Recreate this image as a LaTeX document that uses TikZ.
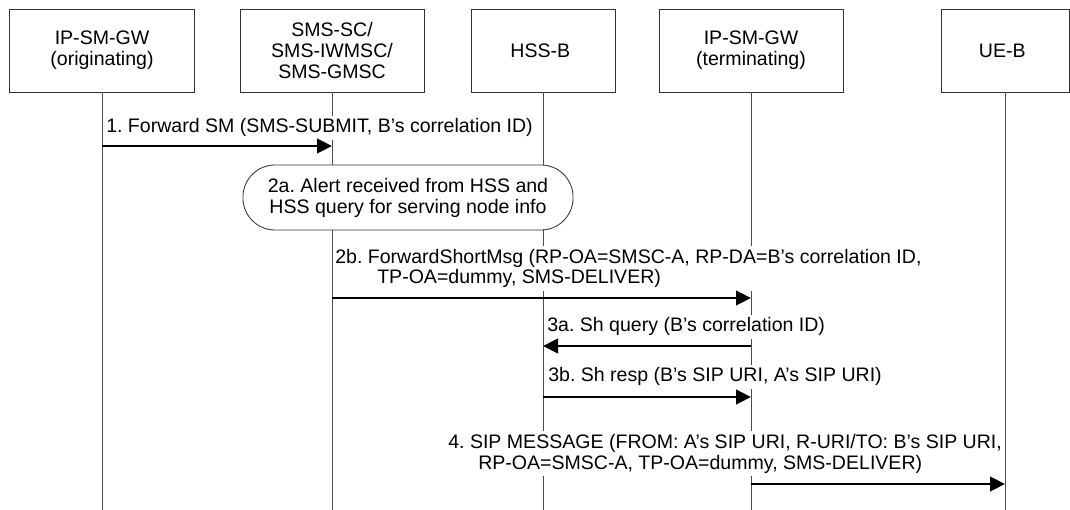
\documentclass[tikz,border=0pt]{standalone}
\usepackage{fontspec}
\setmainfont{Liberation Sans}
\usetikzlibrary{arrows.meta}
\begin{document}
\frenchspacing
\begin{tikzpicture}[ x=0.025cm, y=-0.025cm,
    font=\fontsize{13.9}{14.9}\selectfont,
    entity/.style={ draw=black!80, line width=0.6pt, minimum height=2.075cm, align=center, inner sep=0pt },
    life/.style={ draw=black!70, line width=0.6pt },
    msg/.style={ line width=2.1pt, -{Triangle[length=0.375cm, width=0.36cm]} },
    lbl/.style={ anchor=base west, fill=white, inner xsep=0pt, inner ysep=2pt, align=left },
    note/.style={ draw=black!80, line width=0.6pt, fill=white, rounded corners=0.8cm,
      minimum width=8.25cm, minimum height=1.625cm, align=center, inner sep=0pt } ]
  \useasboundingbox (0,0) rectangle (1070,510);

  \node [ entity, minimum width=4.625cm ] (ogw) at (102,50.5) { IP-SM-GW\\(originating) };
  \node [ entity, minimum width=4.6cm ] (smsc) at (332,50.5) { SMS-SC/\\SMS-IWMSC/\\SMS-GMSC };
  \node [ entity, minimum width=3.6cm ] (hss) at (543,50.5) { HSS-B };
  \node [ entity, minimum width=4.6cm ] (tgw) at (751,50.5) { IP-SM-GW\\(terminating) };
  \node [ entity, minimum width=3.2cm ] (ue) at (1005,50.5) { UE-B };

  \coordinate (bot) at (0,510);
  \draw [ life ] (ogw.south) -- (ogw |- bot);
  \draw [ life ] (smsc.south) -- (smsc |- bot);
  \draw [ life ] (hss.south) -- (hss |- bot);
  \draw [ life ] (tgw.south) -- (tgw |- bot);
  \draw [ life ] (ue.south) -- (ue |- bot);

  \coordinate (m1) at (0,146);
  \coordinate (m2b) at (0,298);
  \coordinate (m3a) at (0,346);
  \coordinate (m3b) at (0,397);
  \coordinate (m4) at (0,484);

  \node [ lbl ] (t1) at (106,133) { 1. Forward SM (SMS-SUBMIT, B’s correlation ID) };
  \draw [ msg ] (ogw |- m1) -- (smsc |- m1);

  \node [ note ] (t2a) at (408,197.5) { 2a. Alert received from HSS and\\HSS query for serving node info };

  \node [ lbl ] (t2b) at (335,284) { 2b. ForwardShortMsg (RP-OA=SMSC-A, RP-DA=B’s correlation ID,\\\hspace*{1.05cm}TP-OA=dummy, SMS-DELIVER) };
  \draw [ msg ] (smsc |- m2b) -- (tgw |- m2b);

  \node [ lbl ] (t3a) at (547,332) { 3a. Sh query (B’s correlation ID) };
  \draw [ msg ] (tgw |- m3a) -- (hss |- m3a);

  \node [ lbl ] (t3b) at (548,382) { 3b. Sh resp (B’s SIP URI, A’s SIP URI) };
  \draw [ msg ] (hss |- m3b) -- (tgw |- m3b);

  \node [ lbl ] (t4) at (448,469) { 4. SIP MESSAGE (FROM: A’s SIP URI, R-URI/TO: B’s SIP URI,\\\hspace*{0.75cm}RP-OA=SMSC-A, TP-OA=dummy, SMS-DELIVER) };
  \draw [ msg ] (tgw |- m4) -- (ue |- m4);
\end{tikzpicture}
\end{document}
